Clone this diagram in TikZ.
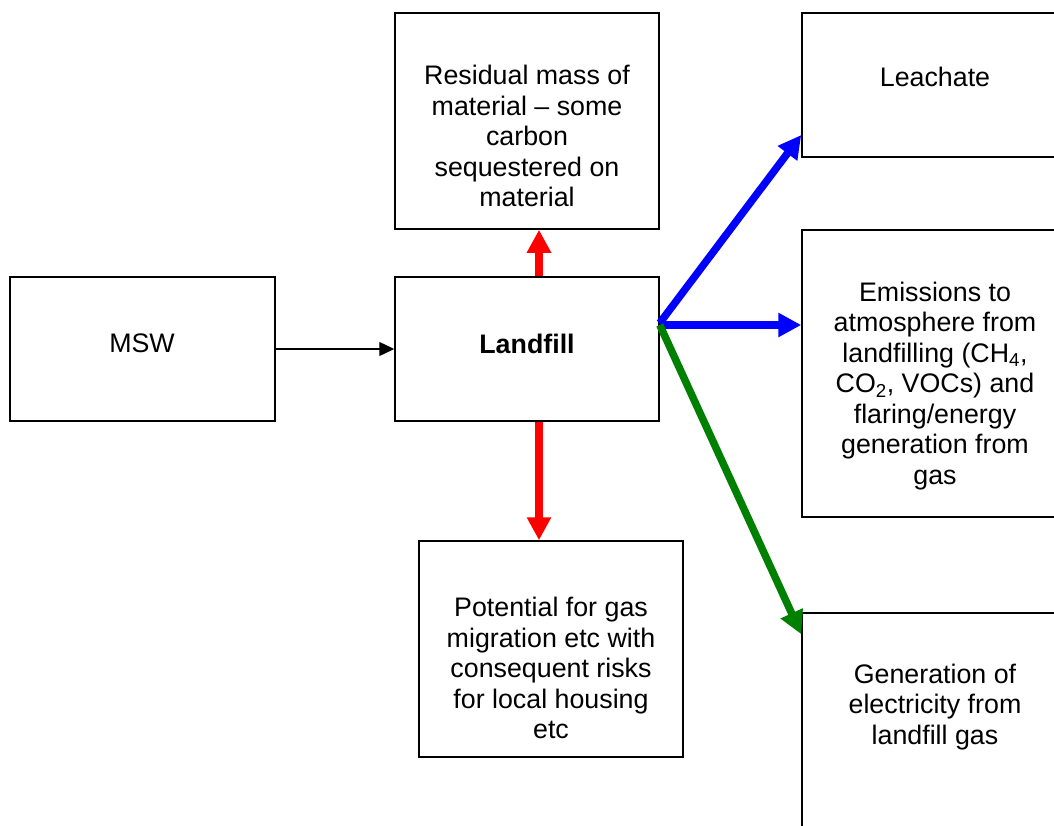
\documentclass[tikz,border=0pt]{standalone}
\usepackage{fontspec}
\setmainfont{Liberation Sans}
\usetikzlibrary{arrows.meta}
\definecolor{bblue}{RGB}{0,0,255}
\definecolor{rred}{RGB}{255,0,0}
\definecolor{ggreen}{RGB}{0,128,0}
\begin{document}
\begin{tikzpicture}[x=1pt,y=-1pt,
  box/.style={draw=black, line width=1.5pt, inner sep=0pt},
  txt/.style={align=center, font=\fontsize{26.8}{30.5}\selectfont, inner sep=0pt},
  thinarrow/.style={draw=black, line width=1.3pt, -{Triangle[length=15pt,width=14pt]}},
  fatarrow/.style={line width=7.5pt, -{Triangle[length=23pt,width=23pt]}}]
\useasboundingbox (0,0) rectangle (1054,825);
\clip (0,0) rectangle (1054,825);
% boxes
\node[box, minimum width=265, minimum height=144] (msw) at (142.5,349) {};
\node[box, minimum width=264, minimum height=144] (land) at (527,349) {};
\node[box, minimum width=264, minimum height=216] (resid) at (527,121) {};
\node[box, minimum width=264, minimum height=216] (pot) at (551,649) {};
\node[box, minimum width=266, minimum height=144] (leach) at (935,85) {};
\node[box, minimum width=266, minimum height=287] (emis) at (935,373.5) {};
\node[box, minimum width=266, minimum height=240] (gen) at (935,733) {};
% texts
\node[txt] (tmsw) at (142,343) {MSW};
\node[txt, font=\fontsize{26.8}{30.5}\selectfont\bfseries] (tland) at (527,344) {Landfill};
\node[txt] (tresid) at (527,136) {Residual mass of\\material – some\\carbon\\sequestered on\\material};
\node[txt] (tpot) at (551,668) {Potential for gas\\migration etc with\\consequent risks\\for local housing\\etc};
\node[txt] (tleach) at (935,77) {Leachate};
\node[txt] (temis) at (935,386) {Emissions to\\atmosphere from\\landfilling (CH\textsubscript{4},\\CO\textsubscript{2}, VOCs) and\\flaring/energy\\generation from\\gas};
\node[txt] (tgen) at (935,707) {Generation of\\electricity from\\landfill gas};
% connectors
\draw[thinarrow] (msw.east) -- (land.west);
\draw[fatarrow, rred] ([xshift=12pt]land.north) -- ([xshift=12pt]resid.south);
\draw[fatarrow, rred] ([xshift=12pt]land.south) -- ([xshift=-12pt]pot.north);
\draw[fatarrow, bblue] ([yshift=26pt]land.east) -- ([yshift=-50pt]leach.west);
\draw[fatarrow, bblue] ([yshift=24pt]land.east) -- ([yshift=48.5pt]emis.west);
\draw[fatarrow, ggreen] ([yshift=24pt]land.east) -- ([yshift=-22pt]gen.north west);
\end{tikzpicture}
\end{document}
